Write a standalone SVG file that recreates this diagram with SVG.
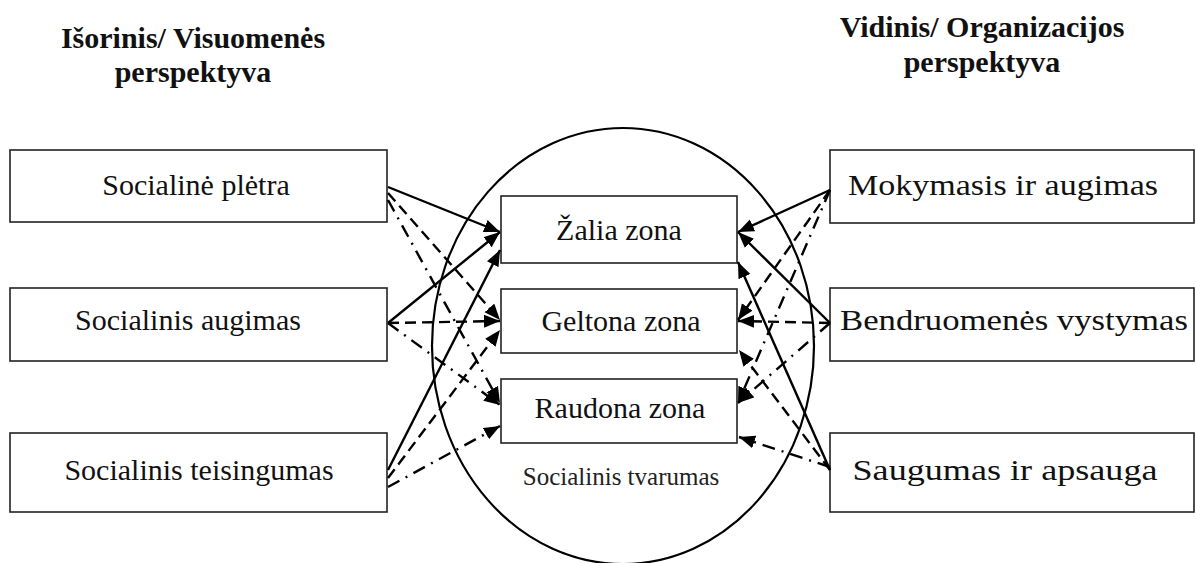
<svg xmlns="http://www.w3.org/2000/svg" width="1196" height="563" viewBox="0 0 1196 563">
  <defs>
    <marker id="arrow" markerUnits="userSpaceOnUse" markerWidth="18" markerHeight="14" refX="16" refY="6.5" orient="auto">
      <path d="M0,0 L16,6.5 L0,13 z" fill="#000"/>
    </marker>
    <style>
      .box { fill: #fff; stroke: #222; stroke-width: 1.6; }
      text { font-family: 'Liberation Serif', 'DejaVu Serif', serif; }
      .label { font-size: 30px; fill: #111; text-anchor: middle; }
      .small { font-size: 25px; fill: #222; text-anchor: middle; }
      .head { font-size: 30px; font-weight: bold; fill: #111; text-anchor: middle; }
      .link { fill: none; stroke: #000; stroke-width: 2.4; marker-end: url(#arrow); }
      .dash { stroke-dasharray: 11 6; }
      .dashdot { stroke-dasharray: 13 7 2 7; }
    </style>
  </defs>
  <rect width="1196" height="563" fill="#fff"/>

  <!-- perspective headings -->
  <g id="heading-external">
    <text class="head" x="193" y="48">Išorinis/ Visuomenės</text>
    <text class="head" x="193" y="82">perspektyva</text>
  </g>
  <g id="heading-internal">
    <text class="head" x="982" y="37">Vidinis/ Organizacijos</text>
    <text class="head" x="982" y="72">perspektyva</text>
  </g>

  <!-- social sustainability ellipse -->
  <g id="sustainability">
    <ellipse cx="623" cy="346" rx="191" ry="218" fill="none" stroke="#000" stroke-width="2.2"/>
    <text class="small" x="621" y="485">Socialinis tvarumas</text>
  </g>

  <!-- left column -->
  <g id="social-development">
    <rect class="box" x="10" y="150" width="377" height="72"/>
    <text class="label" x="196" y="195">Socialinė plėtra</text>
  </g>
  <g id="social-growth">
    <rect class="box" x="10" y="288" width="377" height="73"/>
    <text class="label" x="188" y="330">Socialinis augimas</text>
  </g>
  <g id="social-justice">
    <rect class="box" x="10" y="433" width="377" height="79"/>
    <text class="label" x="199" y="480">Socialinis teisingumas</text>
  </g>

  <!-- zones -->
  <g id="zone-green">
    <rect class="box" x="501" y="196" width="236" height="67"/>
    <text class="label" x="619" y="240">Žalia zona</text>
  </g>
  <g id="zone-yellow">
    <rect class="box" x="501" y="289" width="236" height="64"/>
    <text class="label" x="621" y="331">Geltona zona</text>
  </g>
  <g id="zone-red">
    <rect class="box" x="501" y="379" width="236" height="64"/>
    <text class="label" x="620" y="418">Raudona zona</text>
  </g>

  <!-- right column -->
  <g id="learning-growth">
    <rect class="box" x="830" y="150" width="364" height="73"/>
    <text class="label" x="1003" y="195" textLength="310" lengthAdjust="spacingAndGlyphs">Mokymasis ir augimas</text>
  </g>
  <g id="community-development">
    <rect class="box" x="830" y="288" width="364" height="73"/>
    <text class="label" x="1014" y="330" textLength="348" lengthAdjust="spacingAndGlyphs">Bendruomenės vystymas</text>
  </g>
  <g id="safety-protection">
    <rect class="box" x="830" y="433" width="364" height="79"/>
    <text class="label" x="1005" y="480" textLength="305" lengthAdjust="spacingAndGlyphs">Saugumas ir apsauga</text>
  </g>

  <!-- connectors -->
  <g id="connectors">
    <!-- from Socialinė plėtra -->
    <line class="link" x1="388" y1="187" x2="500" y2="232"/>
    <line class="link dash" x1="388" y1="193" x2="500" y2="320"/>
    <line class="link dashdot" x1="388" y1="200" x2="500" y2="403"/>
    <!-- from Socialinis augimas -->
    <line class="link" x1="388" y1="323" x2="500" y2="232"/>
    <line class="link dash" x1="388" y1="323" x2="500" y2="321"/>
    <line class="link dashdot" x1="388" y1="323" x2="500" y2="405"/>
    <!-- from Socialinis teisingumas -->
    <line class="link" x1="388" y1="470" x2="500" y2="250"/>
    <line class="link dash" x1="388" y1="478" x2="500" y2="330"/>
    <line class="link dashdot" x1="388" y1="487" x2="500" y2="426"/>

    <!-- from Mokymasis ir augimas -->
    <line class="link" x1="830" y1="190" x2="738" y2="232"/>
    <line class="link dash" x1="830" y1="190" x2="738" y2="320"/>
    <line class="link dashdot" x1="830" y1="190" x2="738" y2="403"/>
    <!-- from Bendruomenės vystymas -->
    <line class="link" x1="830" y1="323" x2="738" y2="232"/>
    <line class="link dash" x1="830" y1="323" x2="738" y2="321"/>
    <line class="link dashdot" x1="830" y1="323" x2="738" y2="403"/>
    <!-- from Saugumas ir apsauga -->
    <line class="link" x1="830" y1="470" x2="738" y2="262"/>
    <line class="link dash" x1="830" y1="470" x2="739" y2="350"/>
    <line class="link dashdot" x1="830" y1="467" x2="739" y2="437"/>
  </g>
</svg>
